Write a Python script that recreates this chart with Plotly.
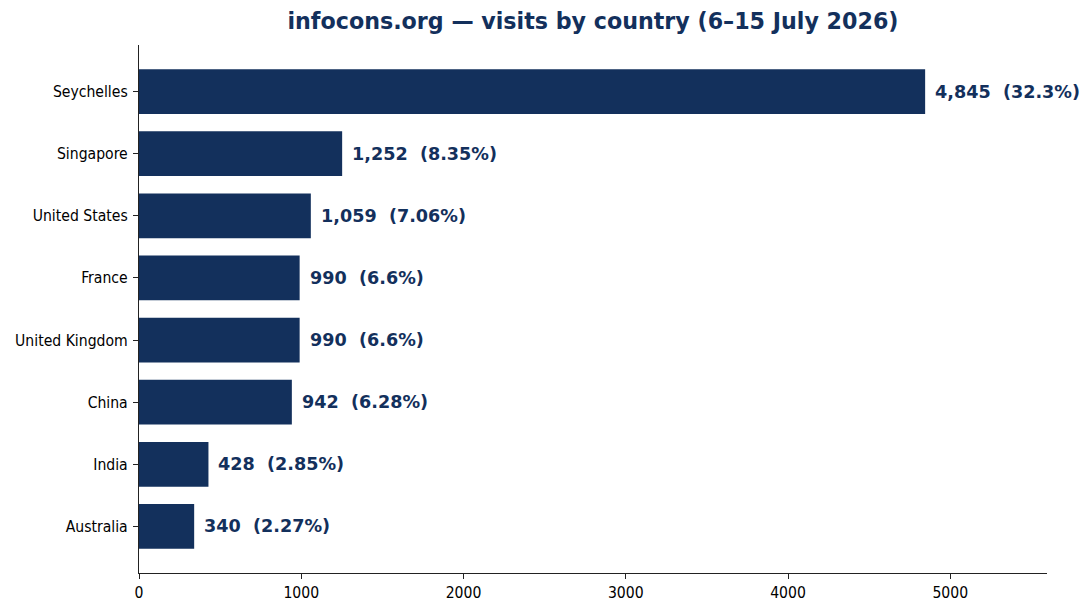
import plotly.graph_objects as go

## Data
countries = ["Seychelles", "Singapore", "United States", "France",
             "United Kingdom", "China", "India", "Australia"]
visits = [4845, 1252, 1059, 990, 990, 942, 428, 340]
shares = ["32.3%", "8.35%", "7.06%", "6.6%", "6.6%", "6.28%", "2.85%", "2.27%"]
x_ticks = [0, 1000, 2000, 3000, 4000, 5000]

NAVY = "#13305c"
TICK_FONT = dict(family="DejaVu Sans Condensed, DejaVu Sans", size=15.6, color="black")

fig = go.Figure()
fig.add_trace(go.Bar(
    y=countries, x=visits, orientation="h", width=0.72,
    marker=dict(color=NAVY, line=dict(width=0)),
    hoverinfo="skip",
))

# value labels right of each bar
for c, v, s in zip(countries, visits, shares):
    fig.add_annotation(
        x=v, y=c, xref="x", yref="y", text=f"{v:,}\u00a0\u00a0({s})",
        showarrow=False, xanchor="left", yanchor="middle", xshift=8,
        font=dict(family="DejaVu Sans", size=17.6, color=NAVY, weight="bold"),
    )

# page body adds an 8px offset, so margins are set relative to that
fig.update_layout(
    width=1091, height=612,
    margin=dict(l=131, r=52, t=37, b=47),
    paper_bgcolor="white", plot_bgcolor="white",
    showlegend=False,
    title=dict(
        text="<b>infocons.org — visits by country (6–15 July 2026)</b>",
        x=0.5, xref="paper", xanchor="center",
        y=1 - 13 / 612, yref="container", yanchor="middle",
        font=dict(family="DejaVu Sans", size=22.2, color=NAVY),
    ),
)
fig.update_xaxes(
    range=[0, 5596], tickvals=x_ticks, ticktext=[str(t) for t in x_ticks],
    showgrid=False, zeroline=False, automargin=False,
    showline=True, linewidth=1.3, linecolor="#222222",
    ticks="outside", ticklen=5, tickwidth=1.2, tickcolor="#222222",
    tickfont=TICK_FONT,
)
fig.update_yaxes(
    categoryorder="array", categoryarray=countries,
    range=[len(countries) - 0.25, -0.75],
    showgrid=False, zeroline=False, automargin=False,
    showline=True, linewidth=1.3, linecolor="#222222",
    ticks="outside", ticklen=5, tickwidth=1.2, tickcolor="#222222",
    tickfont=TICK_FONT, ticklabelstandoff=2,
)

fig.write_html("out.html")
